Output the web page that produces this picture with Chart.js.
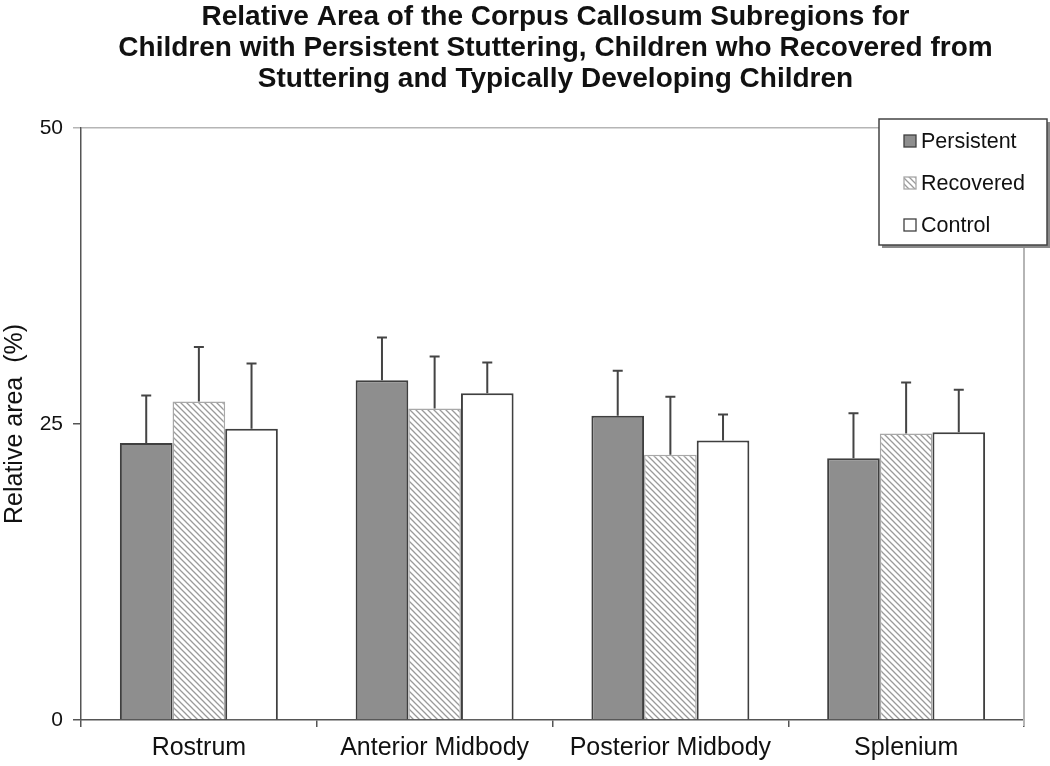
<!DOCTYPE html>
<html lang="en">
<head>
    <meta charset="UTF-8">
    <title>Relative Area of the Corpus Callosum Subregions</title>
    <script src="https://cdn.jsdelivr.net/npm/chart.js"></script>
    <style>
        html, body { margin: 0; padding: 0; background: #fff; }
        #wrap { width: 1050px; height: 766px; }
    </style>
</head>
<body>
    <div id="wrap"><canvas id="ccChart" width="1050" height="766"></canvas></div>

    <script>
        const titleLines = [
            'Relative Area of the Corpus Callosum Subregions for',
            'Children with Persistent Stuttering, Children who Recovered from',
            'Stuttering and Typically Developing Children'
        ];
        const categories = ['Rostrum', 'Anterior Midbody', 'Posterior Midbody', 'Splenium'];
        const yTicks = [0, 25, 50];

        // mean relative area (%) and standard deviation per group
        const persistent = [23.4, 28.7, 25.7, 22.1];
        const persistentSD = [4.0, 3.6, 3.8, 3.8];
        const recovered = [26.9, 26.3, 22.4, 24.2];
        const recoveredSD = [4.6, 4.4, 4.9, 4.3];
        const control = [24.6, 27.6, 23.6, 24.3];
        const controlSD = [5.5, 2.6, 2.2, 3.6];

        const FONT = "'Liberation Sans', Arial, sans-serif";

        function makeHatch() {
            const c = document.createElement('canvas');
            c.width = 6; c.height = 6;
            const g = c.getContext('2d');
            g.fillStyle = '#ffffff';
            g.fillRect(0, 0, 6, 6);
            g.strokeStyle = '#9a9a9a';
            g.lineWidth = 1.3;
            g.beginPath();
            g.moveTo(-1, -1); g.lineTo(7, 7);
            g.moveTo(-1, 5); g.lineTo(1, 7);
            g.moveTo(5, -1); g.lineTo(7, 1);
            g.stroke();
            return document.getElementById('ccChart').getContext('2d').createPattern(c, 'repeat');
        }
        const hatch = makeHatch();

        // error bars: upward whisker with a small cap
        const errorBars = {
            id: 'errorBars',
            afterDatasetsDraw(chart) {
                const ctx = chart.ctx;
                const y = chart.scales.y;
                ctx.save();
                ctx.strokeStyle = '#444';
                ctx.lineWidth = 2;
                chart.data.datasets.forEach((ds, di) => {
                    const meta = chart.getDatasetMeta(di);
                    meta.data.forEach((bar, i) => {
                        const top = y.getPixelForValue(ds.data[i] + ds.sd[i]);
                        ctx.beginPath();
                        ctx.moveTo(bar.x, bar.y);
                        ctx.lineTo(bar.x, top);
                        ctx.moveTo(bar.x - 5, top);
                        ctx.lineTo(bar.x + 5, top);
                        ctx.stroke();
                    });
                });
                ctx.restore();
            }
        };

        // title centred over the plot, right border, boxed legend
        const decorations = {
            id: 'decorations',
            beforeDatasetsDraw(chart) {
                const { ctx, chartArea } = chart;
                ctx.save();
                ctx.strokeStyle = '#b5b5b5';
                ctx.lineWidth = 2;
                ctx.beginPath();
                ctx.moveTo(chartArea.right, chartArea.top);
                ctx.lineTo(chartArea.right, chartArea.bottom + 6);
                ctx.stroke();
                ctx.restore();
            },
            afterDraw(chart) {
                const { ctx, chartArea } = chart;
                ctx.save();
                ctx.fillStyle = '#111';
                ctx.font = 'bold 28px ' + FONT;
                ctx.textAlign = 'center';
                ctx.textBaseline = 'middle';
                const cx = (chartArea.left + chartArea.right) / 2 + 3;
                titleLines.forEach((t, i) => ctx.fillText(t, cx, 17 + i * 31));

                // legend box
                const lx = 879, ly = 119, lw = 168, lh = 126;
                ctx.fillStyle = '#8a8a8a';
                ctx.fillRect(lx + 3, ly + 3, lw, lh);
                ctx.fillStyle = '#fff';
                ctx.fillRect(lx, ly, lw, lh);
                ctx.strokeStyle = '#444';
                ctx.lineWidth = 1.5;
                ctx.strokeRect(lx, ly, lw, lh);

                ctx.font = '21.5px ' + FONT;
                ctx.textAlign = 'left';
                chart.data.datasets.forEach((ds, i) => {
                    const yc = 141 + i * 42;
                    ctx.fillStyle = ds.backgroundColor;
                    ctx.fillRect(904, yc - 6, 12, 12);
                    ctx.strokeStyle = ds.borderColor;
                    ctx.lineWidth = 1.3;
                    ctx.strokeRect(904, yc - 6, 12, 12);
                    ctx.fillStyle = '#111';
                    ctx.fillText(ds.label, 921, yc + 1);
                });
                ctx.restore();
            }
        };

        new Chart(document.getElementById('ccChart'), {
            type: 'bar',
            data: {
                labels: categories,
                datasets: [
                    {
                        label: 'Persistent',
                        data: persistent,
                        sd: persistentSD,
                        backgroundColor: '#8e8e8e',
                        borderColor: '#3f3f3f',
                        borderWidth: 2
                    },
                    {
                        label: 'Recovered',
                        data: recovered,
                        sd: recoveredSD,
                        backgroundColor: hatch,
                        borderColor: '#a8a8a8',
                        borderWidth: 1.5
                    },
                    {
                        label: 'Control',
                        data: control,
                        sd: controlSD,
                        backgroundColor: '#ffffff',
                        borderColor: '#3f3f3f',
                        borderWidth: 2
                    }
                ]
            },
            options: {
                responsive: false,
                animation: false,
                layout: { padding: { top: 128, right: 26, left: 0, bottom: 0 } },
                datasets: {
                    bar: { categoryPercentage: 0.67, barPercentage: 1.0 }
                },
                plugins: {
                    legend: { display: false },
                    title: { display: false },
                    tooltip: { enabled: false }
                },
                scales: {
                    x: {
                        afterFit(scale) { scale.height = 46; },
                        grid: {
                            offset: true,
                            drawOnChartArea: false,
                            tickLength: 7,
                            color: '#555',
                            lineWidth: 1.5
                        },
                        border: { color: '#555', width: 1.5 },
                        ticks: {
                            padding: 6,
                            color: '#111',
                            font: { family: FONT, size: 25 }
                        }
                    },
                    y: {
                        min: 0,
                        max: 50,
                        afterFit(scale) { scale.width = 81; },
                        afterBuildTicks(scale) {
                            scale.ticks = yTicks.map(v => ({ value: v }));
                        },
                        grid: {
                            color: ctx => ctx.tick && ctx.tick.value === 50 ? '#b5b5b5' : 'rgba(0,0,0,0)',
                            tickColor: ctx => ctx.tick && ctx.tick.value === 50 ? '#b5b5b5' : '#555',
                            lineWidth: 1.5,
                            tickLength: 8
                        },
                        border: { color: '#555', width: 1.5 },
                        ticks: {
                            padding: 10,
                            color: '#111',
                            font: { family: FONT, size: 21 }
                        },
                        title: {
                            display: true,
                            text: 'Relative area  (%)',
                            color: '#111',
                            padding: { top: 0, bottom: 0 },
                            font: { family: FONT, size: 25 }
                        }
                    }
                }
            },
            plugins: [errorBars, decorations]
        });
    </script>
</body>
</html>
